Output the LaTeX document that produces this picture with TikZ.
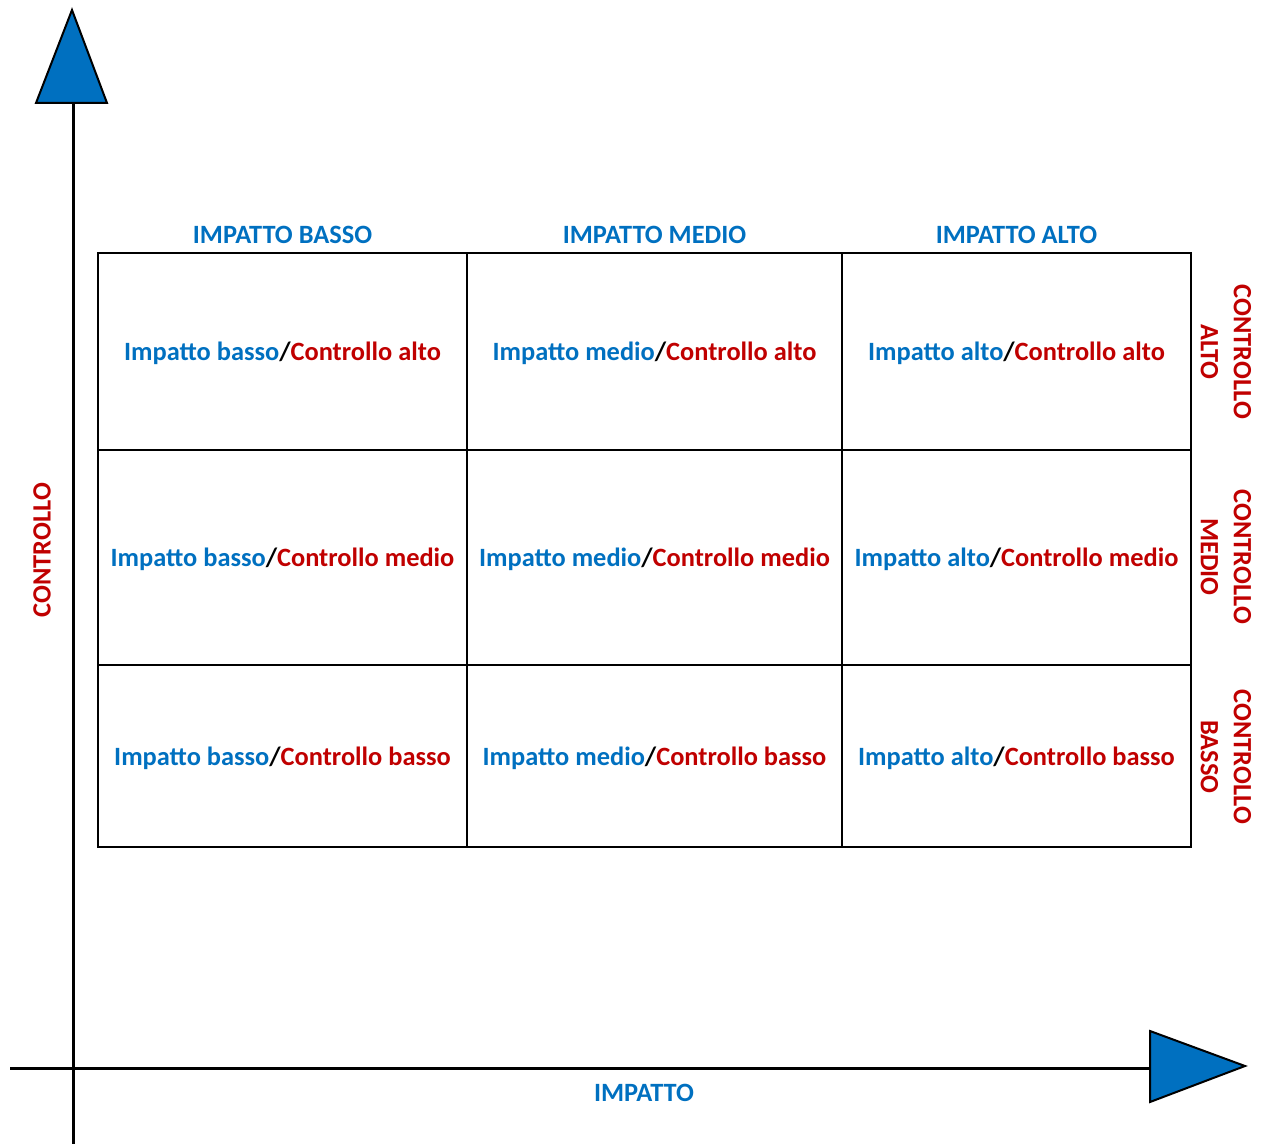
\documentclass[tikz,border=0pt]{standalone}
\usepackage{fontspec}
\setmainfont{Carlito}
\usepackage{xcolor}
\usetikzlibrary{positioning}
\definecolor{ImpBlue}{HTML}{0070C0}
\definecolor{CtrlRed}{HTML}{C00000}

\newcommand{\imp}[1]{\textcolor{ImpBlue}{#1}}
\newcommand{\ctr}[1]{\textcolor{CtrlRed}{#1}}

\tikzset{
  lbl/.style={font=\bfseries\fontsize{13.2}{16.5}\selectfont},
  cell/.style={lbl, draw, line width=1pt, inner sep=0pt, outer sep=0pt, text depth=0pt},
  colhead/.style={lbl, text=ImpBlue},
  rowhead/.style={lbl, text=CtrlRed, align=center, rotate=-90},
  axis/.style={line width=1.5pt},
  tip/.style={fill=ImpBlue, draw=black, line width=1pt, line join=miter},
}

\begin{document}
\begin{tikzpicture}[x=0.5pt,y=-0.5pt]
\useasboundingbox (0,0) rectangle (1268,1144);
% axes
\coordinate (yfoot) at (73,1144);
\coordinate (yhead) at (73,103);
\coordinate (xfoot) at (10,1068);
\coordinate (xhead) at (1150,1068);
\draw[axis] (yfoot) -- (yhead);
\draw[axis] (xfoot) -- (xhead);
\filldraw[tip] (36,103) -- (107,103) -- (72,10) -- cycle;
\filldraw[tip] (1150,1031) -- (1150,1102) -- (1245,1066) -- cycle;
%
\node[lbl, text=ImpBlue] (ximp) at (644,1093) {IMPATTO};
\node[lbl, text=CtrlRed, rotate=90] (yctr) at (42,550) {CONTROLLO};
% grid
\node[cell, minimum width=184.5pt, minimum height=98.5pt] (c11) at (282.5,351.5)
  {\imp{Impatto basso}/\ctr{Controllo alto}};
\node[cell, minimum width=187.5pt, minimum height=98.5pt] (c12) at (654.5,351.5)
  {\imp{Impatto medio}/\ctr{Controllo alto}};
\node[cell, minimum width=174.5pt, minimum height=98.5pt] (c13) at (1016.5,351.5)
  {\imp{Impatto alto}/\ctr{Controllo alto}};
%
\node[cell, minimum width=184.5pt, minimum height=107.5pt] (c21) at (282.5,557.5)
  {\imp{Impatto basso}/\ctr{Controllo medio}};
\node[cell, minimum width=187.5pt, minimum height=107.5pt] (c22) at (654.5,557.5)
  {\imp{Impatto medio}/\ctr{Controllo medio}};
\node[cell, minimum width=174.5pt, minimum height=107.5pt] (c23) at (1016.5,557.5)
  {\imp{Impatto alto}/\ctr{Controllo medio}};
%
\node[cell, minimum width=184.5pt, minimum height=91pt] (c31) at (282.5,756)
  {\imp{Impatto basso}/\ctr{Controllo basso}};
\node[cell, minimum width=187.5pt, minimum height=91pt] (c32) at (654.5,756)
  {\imp{Impatto medio}/\ctr{Controllo basso}};
\node[cell, minimum width=174.5pt, minimum height=91pt] (c33) at (1016.5,756)
  {\imp{Impatto alto}/\ctr{Controllo basso}};
% headers
\node[colhead, above=1pt of c11] (h1) {IMPATTO BASSO};
\node[colhead, above=1pt of c12] (h2) {IMPATTO MEDIO};
\node[colhead, above=1pt of c13] (h3) {IMPATTO ALTO};
%
\node[rowhead] (r1) at (1226,352) {CONTROLLO\\ALTO};
\node[rowhead] (r2) at (1226,557) {CONTROLLO\\MEDIO};
\node[rowhead] (r3) at (1226,757) {CONTROLLO\\BASSO};
\end{tikzpicture}
\end{document}
